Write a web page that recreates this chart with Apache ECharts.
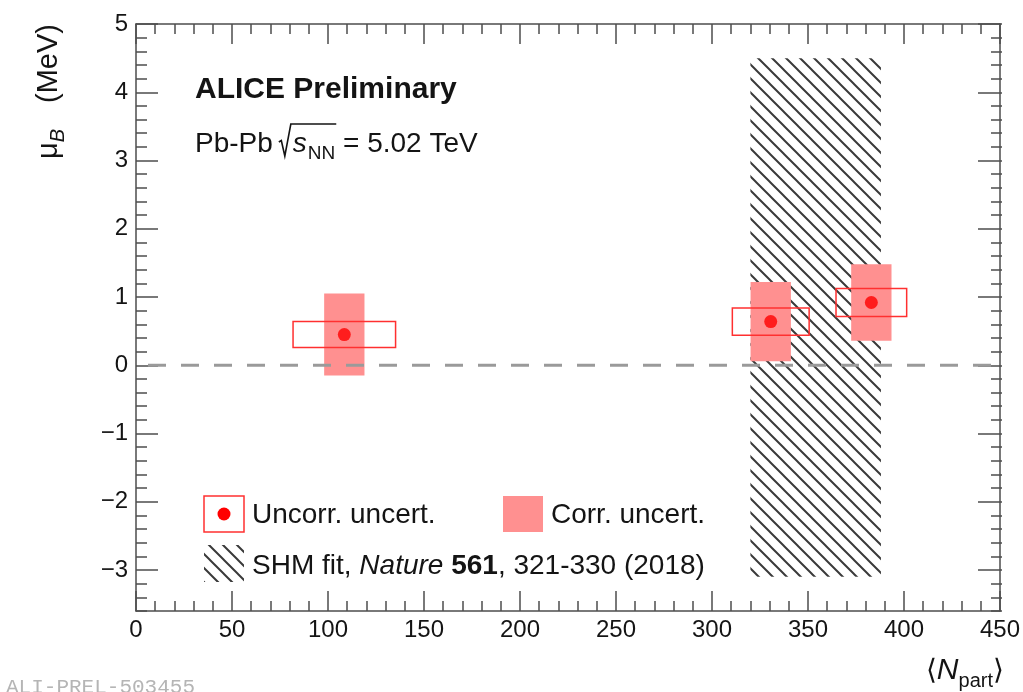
<!DOCTYPE html>
<html>
<head>
<meta charset="utf-8">
<script src="https://cdn.jsdelivr.net/npm/echarts@6/dist/echarts.min.js"></script>
<style>
  html, body { margin: 0; padding: 0; background: #ffffff; }
  #chart { width: 1023px; height: 692px; }
</style>
</head>
<body>
<div id="chart"></div>
<script>
// Baryon chemical potential from the light-flavour fit vs. <Npart>, Pb-Pb at 5.02 TeV

// Measured points
const npart     = [108.5, 330.6, 383.0];
const muB       = [0.45, 0.64, 0.92];
const npartErr  = [26.7, 20.0, 18.4];   // half width of the uncorrelated box
const muBUncorr = [0.19, 0.20, 0.205];  // uncorrelated uncertainty
const muBCorr   = [0.60, 0.58, 0.56];   // correlated uncertainty
const corrHalfWidth = 10.5;             // fixed half width of the correlated box

// SHM fit band (Nature 561, 321-330)
const shmMuB = 0.7;
const shmMuBErr = 3.8;
const shmNpartRange = [320, 388];

// Axis ranges and ticks
const xRange = [0, 450];
const yRange = [-3.6, 5];
const xMajorStep = 50;
const yMajorTicks = [-3, -2, -1, 0, 1, 2, 3, 4, 5];
const yMinorTicks = [];
for (let k = -18; k <= 25; k++) yMinorTicks.push(Math.round(k * 2) / 10);

const FAMILY = '"Liberation Sans", Arial, Helvetica, sans-serif';
const TEXT = '#141414';
const AXIS = '#4d4d4d';
const CORR_FILL = '#ff9090';
const RED = '#ff0000';

// pattern for the SHM band: "\\\" hatching
function makeHatch(size, color, lw) {
  const c = document.createElement('canvas');
  c.width = c.height = size;
  const g = c.getContext('2d');
  g.strokeStyle = color;
  g.lineWidth = lw;
  g.beginPath();
  for (const o of [-size, 0, size]) {
    g.moveTo(o - 2, -2);
    g.lineTo(o + size + 2, size + 2);
  }
  g.stroke();
  return c;
}
const hatchFill = { image: makeHatch(14, '#3a3a3a', 2), repeat: 'repeat' };

// text layout helpers
const measureCtx = document.createElement('canvas').getContext('2d');
function fontOf(p) {
  return (p.italic ? 'italic ' : '') + (p.bold ? 'bold ' : '') + p.size + 'px ' + FAMILY;
}
function textWidth(str, f) { measureCtx.font = f; return measureCtx.measureText(str).width; }
function textEl(str, x, baseline, p, extra) {
  const f = fontOf(p);
  return Object.assign({
    type: 'text', silent: true,
    style: {
      text: str, x: x, y: baseline - 0.31 * p.size, font: f, fill: p.color || TEXT,
      align: 'left', verticalAlign: 'middle', textAlign: 'left', textVerticalAlign: 'middle'
    }
  }, extra || {});
}
// lay out a run of pieces left to right on a common baseline
function run(pieces, x0, baseline) {
  let x = x0;
  const els = [];
  const pos = [];
  for (const p of pieces) {
    if (p.gap) { pos.push({ x: x, w: p.gap }); x += p.gap; continue; }
    const w = textWidth(p.text, fontOf(p));
    els.push(textEl(p.text, x, baseline + (p.dy || 0), p));
    pos.push({ x: x, w: w });
    x += w;
  }
  return { els: els, pos: pos, end: x };
}
function runWidth(pieces) {
  let w = 0;
  for (const p of pieces) w += p.gap ? p.gap : textWidth(p.text, fontOf(p));
  return w;
}

const graphics = [];

// "ALICE Preliminary"
graphics.push(...run([{ text: 'ALICE Preliminary', size: 30, bold: true }], 195, 99).els);

// "Pb-Pb  sqrt(s_NN) = 5.02 TeV"
const sysBase = 153;
const sys = run([
  { text: 'Pb-Pb', size: 28 },
  { gap: 6 },
  { gap: 14 },
  { text: 's', size: 28, italic: true },
  { gap: 1 },
  { text: 'NN', size: 19, dy: 7 },
  { text: ' = 5.02 TeV', size: 28 }
], 195, sysBase);
graphics.push(...sys.els);
{
  const r0 = sys.pos[2].x;
  const nnEnd = sys.pos[5].x + sys.pos[5].w + 1;
  graphics.push({
    type: 'polyline', silent: true,
    shape: { points: [[r0, sysBase - 11], [r0 + 2.5, sysBase - 12.5], [r0 + 6, sysBase + 3], [r0 + 12, sysBase - 29], [nnEnd, sysBase - 29]] },
    style: { stroke: TEXT, lineWidth: 1.6, fill: null, lineJoin: 'miter' }
  });
}

// legend: uncorrelated box + point
graphics.push({
  type: 'rect', silent: true, shape: { x: 204, y: 496, width: 40, height: 36 },
  style: { fill: null, stroke: '#ff3030', lineWidth: 1.5 }
});
graphics.push({ type: 'circle', silent: true, shape: { cx: 224, cy: 514, r: 6.5 }, style: { fill: RED } });
graphics.push(...run([{ text: 'Uncorr. uncert.', size: 28 }], 252, 524).els);

// legend: correlated box
graphics.push({
  type: 'rect', silent: true, shape: { x: 503, y: 496, width: 40, height: 36 },
  style: { fill: CORR_FILL }
});
graphics.push(...run([{ text: 'Corr. uncert.', size: 28 }], 551, 524).els);

// legend: SHM band
graphics.push({
  type: 'rect', silent: true, shape: { x: 204, y: 545, width: 40, height: 37 },
  style: { fill: hatchFill }
});
graphics.push(...run([
  { text: 'SHM fit, ', size: 28 },
  { text: 'Nature', size: 28, italic: true },
  { text: ' ', size: 28 },
  { text: '561', size: 28, bold: true },
  { text: ', 321-330 (2018)', size: 28 }
], 252, 575).els);

// x axis title  <N_part>
{
  const pieces = [
    { text: '\u27E8', size: 28 },
    { text: 'N', size: 30, italic: true },
    { text: 'part', size: 20, dy: 8 },
    { text: '\u27E9', size: 28 }
  ];
  const w = runWidth(pieces);
  const t = run(pieces, 1004 - w, 680);
  graphics.push(...t.els);
}

// y axis title  mu_B (MeV), reading bottom to top
{
  const pieces = [
    { text: '\u03BC', size: 29 },
    { text: 'B', size: 20, italic: true, dy: 7 },
    { gap: 26 },
    { text: '(MeV)', size: 29 }
  ];
  const w = runWidth(pieces);
  const t = run(pieces, -w, 0);
  graphics.push({
    type: 'group', silent: true, x: 58, y: 24, rotation: Math.PI / 2,
    children: t.els
  });
}

// figure id
graphics.push({
  type: 'text', silent: true,
  style: {
    text: 'ALI-PREL-503455', x: 6, y: 677, font: '21px "Liberation Mono", "DejaVu Sans Mono", monospace',
    fill: '#b5b5b5', align: 'left', verticalAlign: 'top', textAlign: 'left', textVerticalAlign: 'top'
  }
});

function fmtTick(v) { return v < 0 ? '\u2212' + (-v) : String(v); }

const tickStyle = { color: AXIS, width: 1.5 };
const gridBox = { left: 136, right: 21, top: 24, bottom: 81 };

function xAxisDef(position, showLabel) {
  return {
    type: 'value', gridIndex: 0, position: position, min: xRange[0], max: xRange[1], interval: xMajorStep,
    axisLine: { show: true, onZero: false, lineStyle: { color: AXIS, width: 1.5 } },
    axisTick: { show: true, inside: true, length: 20, lineStyle: tickStyle },
    minorTick: { show: true, splitNumber: 5, length: 10, lineStyle: tickStyle },
    axisLabel: { show: showLabel, color: TEXT, fontSize: 24, fontFamily: FAMILY, margin: 7, showMinLabel: true, showMaxLabel: true },
    splitLine: { show: false }, minorSplitLine: { show: false }
  };
}
function yMajorDef(position, showLabel) {
  return {
    type: 'value', gridIndex: 0, position: position, min: yRange[0], max: yRange[1],
    axisLine: { show: true, onZero: false, lineStyle: { color: AXIS, width: 1.5 } },
    axisTick: { show: true, inside: true, length: 22, customValues: yMajorTicks, lineStyle: tickStyle },
    axisLabel: { show: showLabel, customValues: yMajorTicks, formatter: fmtTick, color: TEXT, fontSize: 24, fontFamily: FAMILY, margin: 8 },
    splitLine: { show: false }
  };
}
function yMinorDef(position) {
  return {
    type: 'value', gridIndex: 1, position: position, min: yRange[0], max: yRange[1],
    axisLine: { show: false },
    axisTick: { show: true, inside: true, length: 11, customValues: yMinorTicks, lineStyle: tickStyle },
    axisLabel: { show: false },
    splitLine: { show: false }
  };
}

function boxRender(fillStyle) {
  return function (params, api) {
    const a = api.coord([api.value(0) - api.value(2), api.value(1) + api.value(3)]);
    const b = api.coord([api.value(0) + api.value(2), api.value(1) - api.value(3)]);
    return {
      type: 'rect',
      shape: { x: a[0], y: a[1], width: b[0] - a[0], height: b[1] - a[1] },
      style: fillStyle
    };
  };
}

const option = {
  animation: false,
  backgroundColor: '#ffffff',
  grid: [Object.assign({}, gridBox), Object.assign({}, gridBox)],
  xAxis: [
    xAxisDef('bottom', true),
    xAxisDef('top', false),
    { type: 'value', gridIndex: 1, min: xRange[0], max: xRange[1], show: false }
  ],
  yAxis: [
    yMajorDef('left', true),
    yMajorDef('right', false),
    yMinorDef('left'),
    yMinorDef('right')
  ],
  graphic: { elements: graphics },
  series: [
    {
      name: 'SHM fit', type: 'custom', xAxisIndex: 0, yAxisIndex: 0, z: 2,
      data: [[(shmNpartRange[0] + shmNpartRange[1]) / 2, shmMuB, (shmNpartRange[1] - shmNpartRange[0]) / 2, shmMuBErr]],
      renderItem: boxRender({ fill: hatchFill })
    },
    {
      name: 'Corr. uncert.', type: 'custom', xAxisIndex: 0, yAxisIndex: 0, z: 3,
      data: npart.map((x, i) => [x, muB[i], corrHalfWidth, muBCorr[i]]),
      renderItem: boxRender({ fill: CORR_FILL })
    },
    {
      name: 'zero', type: 'line', xAxisIndex: 0, yAxisIndex: 0, z: 4,
      data: [[xRange[0], 0], [xRange[1], 0]],
      showSymbol: false, symbol: 'none', silent: true,
      lineStyle: { color: '#9a9a9a', width: 3, type: [18, 15], dashOffset: 21 }
    },
    {
      name: 'Uncorr. uncert.', type: 'custom', xAxisIndex: 0, yAxisIndex: 0, z: 5,
      data: npart.map((x, i) => [x, muB[i], npartErr[i], muBUncorr[i]]),
      renderItem: boxRender({ fill: null, stroke: '#ff3030', lineWidth: 1.5 })
    },
    {
      name: 'points', type: 'scatter', xAxisIndex: 0, yAxisIndex: 0, z: 6,
      data: npart.map((x, i) => [x, muB[i]]),
      symbol: 'circle', symbolSize: 13, itemStyle: { color: RED }
    }
  ]
};

const chart = echarts.init(document.getElementById('chart'), null, { renderer: 'canvas' });
chart.setOption(option);
</script>
</body>
</html>
